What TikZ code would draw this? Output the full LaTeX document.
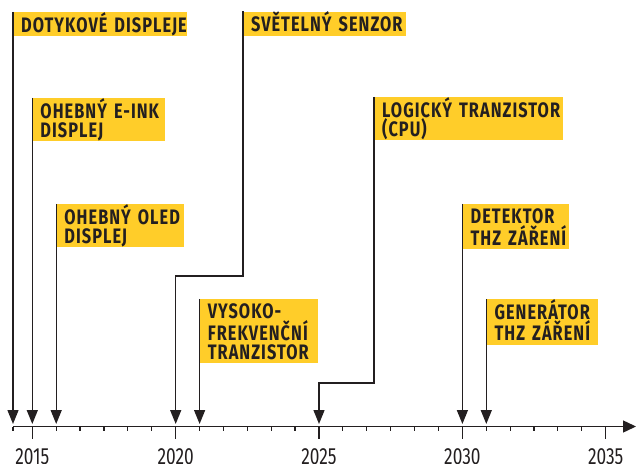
\documentclass[tikz,border=0pt]{standalone}
\usepackage{fontspec}
\usetikzlibrary{arrows.meta}
\newfontfamily\lblfont{Fira Sans Bold}[FakeStretch=0.78,LetterSpace=5]
\newfontfamily\yrfont{Fira Sans}[FakeStretch=0.74]
\definecolor{tlyellow}{RGB}{255,205,41}
\definecolor{tlink}{RGB}{35,31,32}
\newcommand{\lbltop}{\rule{0pt}{19.7bp}}
\newcommand{\lblbot}{\rule[-4bp]{0pt}{0pt}}
\hyphenpenalty=10000
\exhyphenpenalty=10000
\tikzset{
  lbl/.style={fill=tlyellow, text=tlink, anchor=north west, inner xsep=8bp, inner ysep=0pt,
    align=left, font=\lblfont\fontsize{21}{19.2}\selectfont,
    execute at begin node=\lbltop, execute at end node=\lblbot},
  pin/.style={draw=tlink, line width=1.4bp, -{Triangle[width=11bp,length=14bp]}},
  axisline/.style={draw=tlink, line width=1.4bp, -{Triangle[width=12bp,length=13bp]}},
  tickline/.style={draw=tlink, line width=1.2bp},
  yr/.style={anchor=base, text=tlink, inner sep=0pt, font=\yrfont\fontsize{23.5}{24}\selectfont}
}
\begin{document}
\begin{tikzpicture}[x=1bp, y=-1bp]
  \useasboundingbox (0,0) rectangle (636,464);
  \path
    (13,12) node[lbl, text width=158bp] (dotyk){DOTYKOVÉ~DISPLEJE}
    (32.3,98) node[lbl, text width=116.7bp] (eink){OHEBNÝ~E-INK\\DISPLEJ}
    (56.2,204) node[lbl, text width=111.8bp] (oled){OHEBNÝ~OLED\\DISPLEJ}
    (243,11.5) node[lbl, text width=147bp] (senzor){SVĚTELNÝ~SENZOR}
    (199.6,299) node[lbl, text width=102.4bp] (vf){VYSOKO-\\FREKVENČNÍ\\TRANZISTOR}
    (374,97) node[lbl, text width=173bp] (cpu){LOGICKÝ~TRANZISTOR\\(CPU)}
    (462.4,204) node[lbl, text width=90.6bp] (detektor){DETEKTOR\\THZ~ZÁŘENÍ}
    (486.3,299) node[lbl, text width=95.4bp] (generator){GENERÁTOR\\THZ~ZÁŘENÍ};
  \path
    (13,424) coordinate (p1)
    (32.3,424) coordinate (p2)
    (56.2,424) coordinate (p3)
    (175.7,424) coordinate (p4)
    (199.6,424) coordinate (p5)
    (319,424) coordinate (p6)
    (462.4,424) coordinate (p7)
    (486.3,424) coordinate (p8)
    (243,276) coordinate (k1)
    (374,383) coordinate (k2)
    (13,426.5) coordinate (a0)
    (636,426.5) coordinate (a1);
  \draw[axisline] (a0) -- (a1);
  \draw[tickline] (a0) -- ++(0,4.5);
  \foreach \i in {0,...,24}
    \draw[tickline] (32.3+\i*23.89,426.5) -- ++(0,4.5);
  \foreach \i in {0,...,4}
    \draw[tickline] (32.3+\i*143.35,426.5) -- ++(0,12.5);
  \path
    (32.3,464) node[yr] (y2015){2015}
    (175.7,464) node[yr] (y2020){2020}
    (319,464) node[yr] (y2025){2025}
    (462.4,464) node[yr] (y2030){2030}
    (605.7,464) node[yr] (y2035){2035};
  \begin{scope}[pin]
    \draw (dotyk.north west) to (p1);
    \draw (eink.north west) to (p2);
    \draw (oled.north west) to (p3);
    \draw (senzor.north west) -- (k1) -| (p4);
    \draw (vf.north west) to (p5);
    \draw (cpu.north west) -- (k2) -| (p6);
    \draw (detektor.north west) to (p7);
    \draw (generator.north west) to (p8);
  \end{scope}
\end{tikzpicture}
\end{document}
